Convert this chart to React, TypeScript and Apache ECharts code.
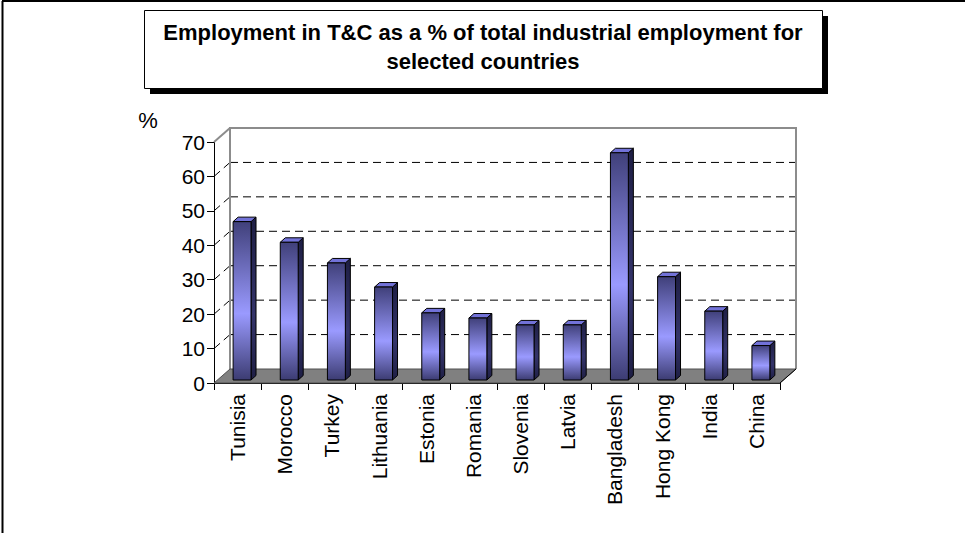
import React, { useEffect, useRef } from "react";
import * as echarts from "echarts";

const categories = [
  "Tunisia", "Morocco", "Turkey", "Lithuania", "Estonia", "Romania",
  "Slovenia", "Latvia", "Bangladesh", "Hong Kong", "India", "China",
];
const values = [46, 40, 34, 27, 19.5, 18, 16, 16, 66, 30, 20, 10];
const yTicks = [0, 10, 20, 30, 40, 50, 60, 70];
const titleLines = [
  "Employment in T&C as a % of total industrial employment for",
  "selected countries",
];
const unitLabel = "%";

const FONT = "'Liberation Sans', Arial, sans-serif";
const DX = 16;
const DY = -14;

export default function App() {
  const ref = useRef<HTMLDivElement>(null);
  useEffect(() => {
    if (!ref.current) return;
    const chart = echarts.init(ref.current, null, { renderer: "svg" });
    const gridLevels = yTicks.filter((v) => v > 0 && v < yTicks[yTicks.length - 1]);
    const yMax = yTicks[yTicks.length - 1];

    const wallRender = (params: any, api: any) => {
      const c0 = api.coord([0, 0]);
      const bw = api.size([1, 0])[0];
      const L = c0[0] - bw / 2;
      const R = L + bw * categories.length;
      const y0 = c0[1];
      const yTop = api.coord([0, yMax])[1];
      const children: any[] = [];
      children.push({
        type: "polygon",
        shape: { points: [[L + DX, yTop + DY], [R + DX, yTop + DY], [R + DX, y0 + DY], [L + DX, y0 + DY]] },
        style: { fill: "#ffffff" },
      });
      gridLevels.forEach((v) => {
        const y = api.coord([0, v])[1];
        children.push({
          type: "line",
          shape: { x1: L + DX, y1: y + DY, x2: R + DX, y2: y + DY },
          style: { stroke: "#000", lineWidth: 1, lineDash: [8, 5] },
        });
        children.push({
          type: "line",
          shape: { x1: L, y1: y, x2: L + DX, y2: y + DY },
          style: { stroke: "#000", lineWidth: 1, lineDash: [8, 5] },
        });
      });
      children.push({
        type: "polyline",
        shape: { points: [[L + DX, y0 + DY], [L + DX, yTop + DY], [R + DX, yTop + DY], [R + DX, y0 + DY]] },
        style: { stroke: "#8c8c8c", lineWidth: 2, fill: null },
      });
      children.push({
        type: "line",
        shape: { x1: L, y1: yTop, x2: L + DX, y2: yTop + DY },
        style: { stroke: "#8c8c8c", lineWidth: 2 },
      });
      children.push({
        type: "polygon",
        shape: { points: [[L, y0], [R, y0], [R + DX, y0 + DY], [L + DX, y0 + DY]] },
        style: { fill: "#808080", stroke: "#505050", lineWidth: 1 },
      });
      children.push({
        type: "line",
        shape: { x1: R, y1: y0, x2: R + DX, y2: y0 + DY },
        style: { stroke: "#000", lineWidth: 1 },
      });
      return { type: "group", children };
    };

    const barRender = (params: any, api: any) => {
      const idx = api.value(0);
      const v = api.value(1);
      const c0 = api.coord([idx, 0]);
      const yv = api.coord([idx, v])[1];
      const bw = api.size([1, 0])[0];
      const fw = bw * 0.38;
      const off = bw * 0.095;
      const sdx = 5;
      const sdy = -4.5;
      const lift = 3;
      const x0 = c0[0] + off - fw / 2;
      const x1 = x0 + fw;
      const yb = c0[1] - lift;
      const yt = yv - lift;
      return {
        type: "group",
        children: [
          {
            type: "polygon",
            shape: { points: [[x1, yt], [x1 + sdx, yt + sdy], [x1 + sdx, yb + sdy], [x1, yb]] },
            style: {
              fill: new echarts.graphic.LinearGradient(0, 0, 0, 1, [
                { offset: 0, color: "#1e1e44" },
                { offset: 0.6, color: "#34346a" },
                { offset: 1, color: "#1e1e44" },
              ]),
              stroke: "#000",
              lineWidth: 1,
            },
          },
          {
            type: "polygon",
            shape: { points: [[x0, yt], [x0 + sdx, yt + sdy], [x1 + sdx, yt + sdy], [x1, yt]] },
            style: { fill: "#7272d8", stroke: "#000", lineWidth: 1 },
          },
          {
            type: "rect",
            shape: { x: x0, y: yt, width: fw, height: yb - yt },
            style: {
              fill: new echarts.graphic.LinearGradient(0, 0, 0, 1, [
                { offset: 0, color: "#40407a" },
                { offset: 0.58, color: "#9a9aff" },
                { offset: 1, color: "#3c3c72" },
              ]),
              stroke: "#000",
              lineWidth: 1,
            },
          },
        ],
      };
    };

    chart.setOption({
      animation: false,
      grid: { left: 214, right: 185, top: 142, bottom: 150, containLabel: false },
      xAxis: {
        type: "category",
        data: categories,
        boundaryGap: true,
        axisLine: { show: true, lineStyle: { color: "#000", width: 1 } },
        axisTick: { show: true, alignWithLabel: false, length: 7, lineStyle: { color: "#000" } },
        axisLabel: {
          rotate: 90,
          interval: 0,
          margin: 11,
          color: "#000",
          fontFamily: FONT,
          fontSize: 21,
        },
        splitLine: { show: false },
      },
      yAxis: {
        type: "value",
        min: 0,
        max: yMax,
        interval: 10,
        axisLine: { show: true, lineStyle: { color: "#000", width: 1 } },
        axisTick: { show: true, length: 7, inside: false, lineStyle: { color: "#000" } },
        axisLabel: { color: "#000", fontFamily: FONT, fontSize: 21, margin: 9 },
        splitLine: { show: false },
      },
      series: [
        {
          type: "custom",
          renderItem: wallRender,
          data: [[0, 0]],
          z: 1,
          silent: true,
        },
        {
          type: "custom",
          renderItem: barRender,
          data: values.map((v, i) => [i, v]),
          encode: { x: 0, y: 1 },
          z: 3,
        },
      ],
      graphic: [
        { type: "line", shape: { x1: 2, y1: 1, x2: 965, y2: 1 }, style: { stroke: "#000", lineWidth: 2 } },
        { type: "line", shape: { x1: 2.5, y1: 1, x2: 2.5, y2: 533 }, style: { stroke: "#000", lineWidth: 2 } },
        { type: "rect", shape: { x: 150, y: 16, width: 678, height: 78 }, style: { fill: "#000" } },
        { type: "rect", shape: { x: 144.5, y: 10.5, width: 678, height: 78 }, style: { fill: "#fff", stroke: "#000", lineWidth: 1 } },
        {
          type: "text",
          x: 483,
          y: 32,
          style: {
            text: titleLines[0],
            fill: "#000",
            font: `bold 22px ${FONT}`,
            align: "center",
            verticalAlign: "middle",
          },
        },
        {
          type: "text",
          x: 483,
          y: 61,
          style: {
            text: titleLines[1],
            fill: "#000",
            font: `bold 22px ${FONT}`,
            align: "center",
            verticalAlign: "middle",
          },
        },
        {
          type: "text",
          x: 148,
          y: 120,
          style: {
            text: unitLabel,
            fill: "#000",
            font: `22px ${FONT}`,
            align: "center",
            verticalAlign: "middle",
          },
        },
      ],
    });
    return () => chart.dispose();
  }, []);
  return (
    <div
      ref={ref}
      style={{ position: "fixed", left: 0, top: 0, width: 965, height: 533, background: "#fff" }}
    />
  );
}
